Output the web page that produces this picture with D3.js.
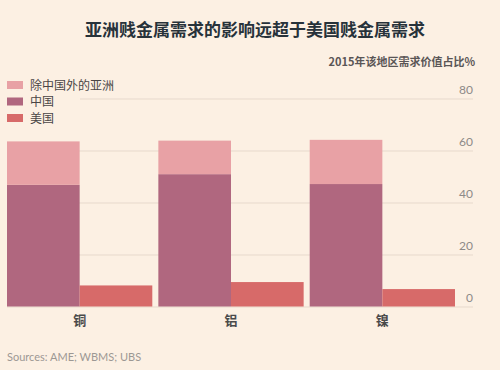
<!DOCTYPE html>
<html><head><meta charset="utf-8">
<script src="https://cdn.jsdelivr.net/npm/d3@7"></script>
<style>
html,body{margin:0;padding:0;background:#fcf0e3;}
svg{display:block;font-family:"Noto Sans CJK SC","Noto Sans",sans-serif;}
</style></head>
<body><svg id="c" width="500" height="370"></svg>
<script>
const categories = ["铜", "铝", "镍"];
const chinaValues = [46.8, 50.9, 47.1];
const asiaExChinaValues = [16.7, 12.9, 17.0];
const usValues = [8.1, 9.4, 6.7];
const yTicks = [0, 20, 40, 60, 80];
const seriesNames = ["除中国外的亚洲", "中国", "美国"];
const colors = {"除中国外的亚洲": "#e8a1a5", "中国": "#b0677f", "美国": "#d76a69"};

const svg = d3.select("#c");
const W = 500, H = 370;
svg.append("rect").attr("width", W).attr("height", H).attr("fill", "#fcf0e3");

const x0 = d3.scaleBand().domain(categories).range([7, 455]).paddingInner(0.04).paddingOuter(0);
const x1 = d3.scaleBand().domain(["asia", "us"]).range([0, x0.bandwidth()]);
const y = d3.scaleLinear().domain([0, 80]).range([306.5, 98.5]);

// gridlines + tick labels
const yAxis = d3.axisRight(y).tickValues(yTicks).tickSize(0).tickFormat(d3.format("d"));
const ga = svg.append("g").call(yAxis);
ga.select(".domain").remove();
ga.selectAll(".tick line").attr("x1", 7).attr("x2", 473).attr("stroke", "#e7d9cc").attr("stroke-width", 1);
ga.selectAll(".tick text").attr("x", 473).attr("dy", "-0.45em").attr("text-anchor", "end")
  .attr("fill", "#8e8a88").attr("font-size", 12).attr("font-family", "Lato, 'Noto Sans', sans-serif");

// stacked data
const rows = categories.map((c, i) => ({cat: c, "中国": chinaValues[i], "除中国外的亚洲": asiaExChinaValues[i], "美国": usValues[i]}));
const stack = d3.stack().keys(["中国", "除中国外的亚洲"])(rows);

const g = svg.append("g");
stack.forEach(layer => {
  g.selectAll(null).data(layer).enter().append("rect")
    .attr("x", d => x0(d.data.cat) + x1("asia"))
    .attr("width", x1.bandwidth())
    .attr("y", d => y(d[1]))
    .attr("height", d => y(d[0]) - y(d[1]))
    .attr("fill", colors[layer.key]);
});
g.selectAll(null).data(rows).enter().append("rect")
  .attr("x", d => x0(d.cat) + x1("us"))
  .attr("width", x1.bandwidth())
  .attr("y", d => y(d["美国"]))
  .attr("height", d => y(0) - y(d["美国"]))
  .attr("fill", colors["美国"]);

// category labels
svg.append("g").selectAll("text").data(categories).enter().append("text")
  .attr("x", d => x0(d) + x0.bandwidth() / 2)
  .attr("y", 325)
  .attr("text-anchor", "middle")
  .attr("font-size", 13).attr("font-weight", "bold").attr("fill", "#4a4a4a")
  .text(d => d);

// title
svg.append("text").attr("x", 255).attr("y", 36).attr("text-anchor", "middle")
  .attr("font-size", 17).attr("font-weight", "bold").attr("fill", "#27323a")
  .text("亚洲贱金属需求的影响远超于美国贱金属需求");
svg.append("text").attr("x", 475).attr("y", 66).attr("text-anchor", "end")
  .attr("font-size", 11).attr("font-weight", "bold").attr("fill", "#5a5656")
  .text("2015年该地区需求价值占比%");

// legend
svg.append("rect").attr("x", 0).attr("y", 76).attr("width", 80).attr("height", 50).attr("fill", "#fcf0e3");
const lg = svg.append("g").selectAll("g").data(seriesNames).enter().append("g")
  .attr("transform", (d, i) => `translate(7,${85 + i * 16.5})`);
lg.append("rect").attr("x", 0).attr("y", -4).attr("width", 16).attr("height", 8).attr("fill", d => colors[d]);
lg.append("text").attr("x", 23).attr("y", 4.5).attr("font-size", 12).attr("fill", "#4a4646").text(d => d);

// source
svg.append("text").attr("x", 7).attr("y", 361).attr("font-size", 11).attr("fill", "#9c9894")
  .attr("font-family", "Lato, 'Noto Sans', sans-serif")
  .text("Sources: AME; WBMS; UBS");
</script></body></html>
